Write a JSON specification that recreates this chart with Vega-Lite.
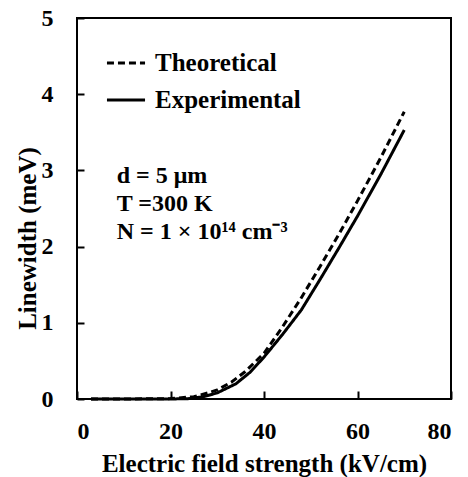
{
  "$schema": "https://vega.github.io/schema/vega-lite/v6.json",
  "width": 374,
  "height": 381,
  "autosize": "none",
  "padding": {"left": 77, "top": 18, "right": 17, "bottom": 78},
  "background": "white",
  "config": {
    "view": {"stroke": "black", "strokeWidth": 2},
    "font": "Liberation Serif",
    "axis": {
      "labelFont": "Liberation Serif", "labelFontWeight": "bold", "labelFontSize": 24, "labelColor": "black",
      "titleFont": "Liberation Serif", "titleFontWeight": "bold", "titleFontSize": 25, "titleColor": "black",
      "domain": false, "grid": false, "ticks": true, "tickColor": "black", "tickWidth": 2, "zindex": 1
    }
  },
  "datasets": {
    "curves": [
      {"E": 3, "w": 0, "s": "Theoretical"},
      {"E": 10, "w": 0, "s": "Theoretical"},
      {"E": 20, "w": 0.005, "s": "Theoretical"},
      {"E": 25, "w": 0.03, "s": "Theoretical"},
      {"E": 28, "w": 0.08, "s": "Theoretical"},
      {"E": 30, "w": 0.12, "s": "Theoretical"},
      {"E": 33, "w": 0.22, "s": "Theoretical"},
      {"E": 36, "w": 0.36, "s": "Theoretical"},
      {"E": 40, "w": 0.6, "s": "Theoretical"},
      {"E": 44, "w": 0.95, "s": "Theoretical"},
      {"E": 48, "w": 1.33, "s": "Theoretical"},
      {"E": 52, "w": 1.74, "s": "Theoretical"},
      {"E": 56, "w": 2.16, "s": "Theoretical"},
      {"E": 60, "w": 2.6, "s": "Theoretical"},
      {"E": 65, "w": 3.17, "s": "Theoretical"},
      {"E": 70, "w": 3.77, "s": "Theoretical"},
      {"E": 3, "w": 0, "s": "Experimental"},
      {"E": 20, "w": 0, "s": "Experimental"},
      {"E": 24, "w": 0.005, "s": "Experimental"},
      {"E": 27, "w": 0.03, "s": "Experimental"},
      {"E": 30, "w": 0.08, "s": "Experimental"},
      {"E": 34, "w": 0.2, "s": "Experimental"},
      {"E": 37, "w": 0.35, "s": "Experimental"},
      {"E": 40, "w": 0.55, "s": "Experimental"},
      {"E": 44, "w": 0.85, "s": "Experimental"},
      {"E": 48, "w": 1.17, "s": "Experimental"},
      {"E": 52, "w": 1.57, "s": "Experimental"},
      {"E": 56, "w": 1.98, "s": "Experimental"},
      {"E": 60, "w": 2.4, "s": "Experimental"},
      {"E": 65, "w": 2.95, "s": "Experimental"},
      {"E": 70, "w": 3.53, "s": "Experimental"}
    ],
    "notes": [
      {"E": 8.5, "w": 2.92, "t": "d = 5 μm"},
      {"E": 8.5, "w": 2.56, "t": "T =300 K"},
      {"E": 8.5, "w": 2.19, "t": "N = 1 × 10¹⁴ cm⁻³"}
    ]
  },
  "resolve": {"axis": {"x": "independent", "y": "independent"}},
  "layer": [
    {
      "data": {"name": "curves"},
      "mark": {"type": "line", "color": "black", "strokeWidth": 3},
      "encoding": {
        "x": {"field": "E", "type": "quantitative", "scale": {"domain": [0, 80]},
          "axis": {"values": [0, 20, 40, 60, 80], "format": "d", "title": "Electric field strength (kV/cm)",
            "offset": -8, "tickSize": 8, "labelPadding": 20,
            "titleX": 187, "titleY": 72, "titleBaseline": "middle", "titleAlign": "center"}},
        "y": {"field": "w", "type": "quantitative", "scale": {"domain": [0, 5]},
          "axis": {"values": [0, 1, 2, 3, 4, 5], "format": "d", "title": "Linewidth (meV)",
            "offset": -7, "tickSize": 7, "labelPadding": 24,
            "titleX": -56.5, "titleY": 220, "titleBaseline": "middle", "titleAlign": "center", "titleAngle": 270}},
        "strokeDash": {
          "field": "s", "type": "nominal",
          "scale": {"domain": ["Theoretical", "Experimental"], "range": [[7, 4], [1, 0]]},
          "legend": {
            "orient": "none", "legendX": 28, "legendY": 24, "title": null,
            "symbolType": "stroke", "symbolSize": 1450, "symbolStrokeWidth": 3, "symbolStrokeColor": "black",
            "labelFont": "Liberation Serif", "labelFontWeight": "bold", "labelFontSize": 25, "labelColor": "black",
            "rowPadding": 3, "labelOffset": 8
          }
        }
      }
    },
    {
      "data": {"name": "notes"},
      "mark": {"type": "text", "align": "left", "baseline": "middle", "font": "Liberation Serif", "fontWeight": "bold", "fontSize": 24, "color": "black"},
      "encoding": {
        "x": {"field": "E", "type": "quantitative", "axis": null},
        "y": {"field": "w", "type": "quantitative", "axis": null},
        "text": {"field": "t"}
      }
    }
  ]
}
